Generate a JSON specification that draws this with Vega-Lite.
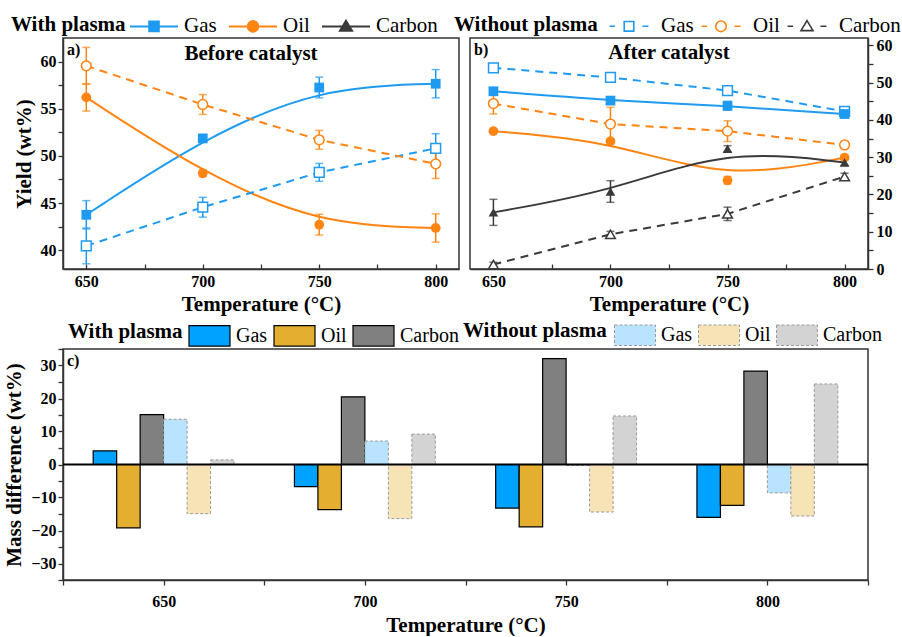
{
  "$schema": "https://vega.github.io/schema/vega-lite/v6.json",
  "padding": {"left": 3, "top": 0, "right": 0, "bottom": 0},
  "background": "white",
  "datasets": {
    "pts": [
      {"p":"a","T":650,"c":"Gas","l":"w","v":43.75,"e":1.5},
      {"p":"a","T":700,"c":"Gas","l":"w","v":51.85,"e":0.4},
      {"p":"a","T":750,"c":"Gas","l":"w","v":57.25,"e":1.1},
      {"p":"a","T":800,"c":"Gas","l":"w","v":57.65,"e":1.5},
      {"p":"a","T":650,"c":"Oil","l":"w","v":56.2,"e":1.45},
      {"p":"a","T":700,"c":"Oil","l":"w","v":48.15,"e":0.35},
      {"p":"a","T":750,"c":"Oil","l":"w","v":42.7,"e":1.1},
      {"p":"a","T":800,"c":"Oil","l":"w","v":42.35,"e":1.5},
      {"p":"a","T":650,"c":"Gas","l":"wo","v":40.45,"e":1.9},
      {"p":"a","T":700,"c":"Gas","l":"wo","v":44.55,"e":1.05},
      {"p":"a","T":750,"c":"Gas","l":"wo","v":48.25,"e":0.95},
      {"p":"a","T":800,"c":"Gas","l":"wo","v":50.8,"e":1.55},
      {"p":"a","T":650,"c":"Oil","l":"wo","v":59.55,"e":1.95},
      {"p":"a","T":700,"c":"Oil","l":"wo","v":55.45,"e":1.05},
      {"p":"a","T":750,"c":"Oil","l":"wo","v":51.7,"e":1.0},
      {"p":"a","T":800,"c":"Oil","l":"wo","v":49.15,"e":1.55},
      {"p":"b","T":650,"c":"Gas","l":"w","v":47.7,"e":0.5},
      {"p":"b","T":700,"c":"Gas","l":"w","v":45.2,"e":1.0},
      {"p":"b","T":750,"c":"Gas","l":"w","v":43.8,"e":1.2},
      {"p":"b","T":800,"c":"Gas","l":"w","v":41.6,"e":1.0},
      {"p":"b","T":650,"c":"Gas","l":"wo","v":54.0,"e":0.7},
      {"p":"b","T":700,"c":"Gas","l":"wo","v":51.4,"e":0.8},
      {"p":"b","T":750,"c":"Gas","l":"wo","v":47.9,"e":1.2},
      {"p":"b","T":800,"c":"Gas","l":"wo","v":42.3,"e":0.8},
      {"p":"b","T":650,"c":"Oil","l":"w","v":37.0,"e":0.5},
      {"p":"b","T":700,"c":"Oil","l":"w","v":34.3,"e":0.5},
      {"p":"b","T":750,"c":"Oil","l":"w","v":23.8,"e":1.0},
      {"p":"b","T":800,"c":"Oil","l":"w","v":29.9,"e":0.6},
      {"p":"b","T":650,"c":"Oil","l":"wo","v":44.4,"e":2.8},
      {"p":"b","T":700,"c":"Oil","l":"wo","v":38.9,"e":4.5},
      {"p":"b","T":750,"c":"Oil","l":"wo","v":37.0,"e":2.8},
      {"p":"b","T":800,"c":"Oil","l":"wo","v":33.3,"e":0.9},
      {"p":"b","T":650,"c":"Carbon","l":"w","v":15.2,"e":3.5},
      {"p":"b","T":700,"c":"Carbon","l":"w","v":20.8,"e":2.9},
      {"p":"b","T":750,"c":"Carbon","l":"w","v":32.3,"e":0.8},
      {"p":"b","T":800,"c":"Carbon","l":"w","v":28.6,"e":0.8},
      {"p":"b","T":650,"c":"Carbon","l":"wo","v":1.2,"e":0.6},
      {"p":"b","T":700,"c":"Carbon","l":"wo","v":9.3,"e":0.8},
      {"p":"b","T":750,"c":"Carbon","l":"wo","v":14.8,"e":1.8},
      {"p":"b","T":800,"c":"Carbon","l":"wo","v":24.8,"e":0.9}
    ],
    "bars": [
      {"T":650,"c":"Gas","l":"w","s":"Gas-w","v":4.1},
      {"T":650,"c":"Oil","l":"w","s":"Oil-w","v":-19.2},
      {"T":650,"c":"Carbon","l":"w","s":"Carbon-w","v":15.1},
      {"T":650,"c":"Gas","l":"wo","s":"Gas-wo","v":13.7},
      {"T":650,"c":"Oil","l":"wo","s":"Oil-wo","v":-14.9},
      {"T":650,"c":"Carbon","l":"wo","s":"Carbon-wo","v":1.4},
      {"T":700,"c":"Gas","l":"w","s":"Gas-w","v":-6.7},
      {"T":700,"c":"Oil","l":"w","s":"Oil-w","v":-13.7},
      {"T":700,"c":"Carbon","l":"w","s":"Carbon-w","v":20.5},
      {"T":700,"c":"Gas","l":"wo","s":"Gas-wo","v":7.1},
      {"T":700,"c":"Oil","l":"wo","s":"Oil-wo","v":-16.4},
      {"T":700,"c":"Carbon","l":"wo","s":"Carbon-wo","v":9.2},
      {"T":750,"c":"Gas","l":"w","s":"Gas-w","v":-13.2},
      {"T":750,"c":"Oil","l":"w","s":"Oil-w","v":-18.9},
      {"T":750,"c":"Carbon","l":"w","s":"Carbon-w","v":32.1},
      {"T":750,"c":"Gas","l":"wo","s":"Gas-wo","v":-0.3},
      {"T":750,"c":"Oil","l":"wo","s":"Oil-wo","v":-14.4},
      {"T":750,"c":"Carbon","l":"wo","s":"Carbon-wo","v":14.7},
      {"T":800,"c":"Gas","l":"w","s":"Gas-w","v":-16.0},
      {"T":800,"c":"Oil","l":"w","s":"Oil-w","v":-12.4},
      {"T":800,"c":"Carbon","l":"w","s":"Carbon-w","v":28.3},
      {"T":800,"c":"Gas","l":"wo","s":"Gas-wo","v":-8.6},
      {"T":800,"c":"Oil","l":"wo","s":"Oil-wo","v":-15.6},
      {"T":800,"c":"Carbon","l":"wo","s":"Carbon-wo","v":24.4}
    ]
  },
  "bounds": "flush",
  "spacing": 311,
  "vconcat": [
    {
      "bounds": "flush",
      "spacing": 11,
      "hconcat": [
        {
          "width": 396, "height": 231,
          "title": {"text": "Before catalyst", "offset": -26, "dx": -10, "frame": "group"},
          "data": {"name": "pts"},
          "encoding": {
            "x": {"field": "T", "type": "quantitative", "scale": {"domain": [640, 810], "nice": false, "zero": false},
                  "axis": {"title": "Temperature (°C)", "values": [650, 675, 700, 725, 750, 775, 800], "labelExpr": "datum.value % 50 === 0 ? datum.label : ''", "tickSize": -5, "labelPadding": 9, "titlePadding": 4}},
            "y": {"field": "v", "type": "quantitative", "scale": {"domain": [38, 62.5], "nice": false, "zero": false},
                  "axis": {"title": "Yield (wt%)", "values": [40, 42.5, 45, 47.5, 50, 52.5, 55, 57.5, 60], "labelExpr": "datum.value % 5 === 0 ? datum.label : ''", "tickSize": 5, "labelPadding": 2, "titlePadding": 6}}
          },
          "layer": [
            {"transform": [{"filter": "datum.p === 'a' && datum.l === 'w'"}], "mark": {"type": "line", "interpolate": "basis", "strokeWidth": 2},
             "encoding": {"color": {"field": "c", "type": "nominal", "scale": {"domain": ["Gas", "Oil", "Carbon"], "range": ["#1E9BF0", "#FF8412", "#3A3A3A"]}, "legend": null}}},
            {"transform": [{"filter": "datum.p === 'a' && datum.l === 'wo'"}], "mark": {"type": "line", "strokeWidth": 2, "strokeDash": [8, 6]},
             "encoding": {"color": {"field": "c", "type": "nominal", "legend": null}}},
            {"transform": [{"filter": "datum.p === 'a'"}], "mark": {"type": "errorbar", "ticks": {"size": 8}, "thickness": 1.5},
             "encoding": {"yError": {"field": "e"}, "color": {"field": "c", "type": "nominal", "legend": null}}},
            {"transform": [{"filter": "datum.p === 'a' && datum.l === 'wo'"}], "mark": {"type": "point", "filled": true, "fill": "white", "size": 95, "strokeWidth": 1.5, "opacity": 1},
             "encoding": {"stroke": {"field": "c", "type": "nominal", "scale": {"domain": ["Gas", "Oil", "Carbon"], "range": ["#1E9BF0", "#FF8412", "#3A3A3A"]}, "legend": null},
                          "shape": {"condition": [{"test": "datum.c === 'Gas'", "value": "square"}, {"test": "datum.c === 'Oil'", "value": "circle"}], "value": "triangle-up"}}},
            {"transform": [{"filter": "datum.p === 'a' && datum.l === 'w'"}], "mark": {"type": "point", "filled": true, "size": 95, "opacity": 1},
             "encoding": {"color": {"field": "c", "type": "nominal", "legend": null},
                          "shape": {"condition": [{"test": "datum.c === 'Gas'", "value": "square"}, {"test": "datum.c === 'Oil'", "value": "circle"}], "value": "triangle-up"}}},
            {"data": {"values": [{"t": "a)", "T": 640, "v": 62.5}]}, "mark": {"type": "text", "align": "left", "baseline": "top", "dx": 4, "dy": 4, "fontSize": 16, "fontWeight": "bold", "font": "Liberation Serif", "color": "black"},
             "encoding": {"text": {"field": "t", "type": "nominal"}}}
          ]
        },
        {
          "width": 398, "height": 231,
          "title": {"text": "After catalyst", "offset": -26, "frame": "group"},
          "data": {"name": "pts"},
          "encoding": {
            "x": {"field": "T", "type": "quantitative", "scale": {"domain": [640, 810], "nice": false, "zero": false},
                  "axis": {"title": "Temperature (°C)", "values": [650, 675, 700, 725, 750, 775, 800], "labelExpr": "datum.value % 50 === 0 ? datum.label : ''", "tickSize": -5, "labelPadding": 9, "titlePadding": 4}},
            "y": {"field": "v", "type": "quantitative", "scale": {"domain": [0, 62], "nice": false, "zero": false},
                  "axis": {"title": null, "orient": "right", "values": [0, 5, 10, 15, 20, 25, 30, 35, 40, 45, 50, 55, 60], "labelExpr": "datum.value % 10 === 0 ? datum.label : ''", "tickSize": 5, "labelPadding": 3}}
          },
          "layer": [
            {"transform": [{"filter": "datum.p === 'b' && datum.l === 'w'"}], "mark": {"type": "line", "interpolate": "basis", "strokeWidth": 2},
             "encoding": {"color": {"field": "c", "type": "nominal", "scale": {"domain": ["Gas", "Oil", "Carbon"], "range": ["#1E9BF0", "#FF8412", "#3A3A3A"]}, "legend": null}}},
            {"transform": [{"filter": "datum.p === 'b' && datum.l === 'wo'"}], "mark": {"type": "line", "strokeWidth": 2, "strokeDash": [8, 6]},
             "encoding": {"color": {"field": "c", "type": "nominal", "legend": null}}},
            {"transform": [{"filter": "datum.p === 'b'"}], "mark": {"type": "errorbar", "ticks": {"size": 8}, "thickness": 1.5},
             "encoding": {"yError": {"field": "e"}, "color": {"field": "c", "type": "nominal", "legend": null}}},
            {"transform": [{"filter": "datum.p === 'b' && datum.l === 'wo'"}], "mark": {"type": "point", "filled": true, "fill": "white", "size": 95, "strokeWidth": 1.5, "opacity": 1},
             "encoding": {"stroke": {"field": "c", "type": "nominal", "scale": {"domain": ["Gas", "Oil", "Carbon"], "range": ["#1E9BF0", "#FF8412", "#3A3A3A"]}, "legend": null},
                          "shape": {"condition": [{"test": "datum.c === 'Gas'", "value": "square"}, {"test": "datum.c === 'Oil'", "value": "circle"}], "value": "triangle-up"}}},
            {"transform": [{"filter": "datum.p === 'b' && datum.l === 'w'"}], "mark": {"type": "point", "filled": true, "size": 95, "opacity": 1},
             "encoding": {"color": {"field": "c", "type": "nominal", "legend": null},
                          "shape": {"condition": [{"test": "datum.c === 'Gas'", "value": "square"}, {"test": "datum.c === 'Oil'", "value": "circle"}], "value": "triangle-up"}}},
            {"data": {"values": [{"t": "b)", "T": 640, "v": 62}]}, "mark": {"type": "text", "align": "left", "baseline": "top", "dx": 4, "dy": 4, "fontSize": 16, "fontWeight": "bold", "font": "Liberation Serif", "color": "black"},
             "encoding": {"text": {"field": "t", "type": "nominal"}}}
          ]
        }
      ],
      "resolve": {"scale": {"x": "independent", "y": "independent", "color": "independent", "stroke": "independent"},
                  "legend": {"color": "independent", "stroke": "independent"}}
    },
    {
      "width": 805, "height": 231,
      "encoding": {
        "y": {"field": "v", "type": "quantitative", "scale": {"domain": [-35, 35], "nice": false, "zero": false},
              "axis": {"title": "Mass difference (wt%)", "values": [-35, -30, -25, -20, -15, -10, -5, 0, 5, 10, 15, 20, 25, 30, 35], "labelExpr": "datum.value % 10 === 0 ? datum.label : ''", "tickSize": 5, "labelPadding": 2, "titlePadding": 6}}
      },
      "layer": [
        {"data": {"name": "bars"}, "transform": [{"filter": "datum.l === 'w'"}],
         "mark": {"type": "bar", "stroke": "black", "strokeWidth": 1.2, "opacity": 1},
         "encoding": {
           "x": {"field": "T", "type": "nominal", "scale": {"type": "band", "domain": [650, 700, 750, 800], "paddingInner": 0.3, "paddingOuter": 0.15}, "axis": null},
           "xOffset": {"field": "s", "type": "nominal", "scale": {"domain": ["Gas-w", "Oil-w", "Carbon-w", "Gas-wo", "Oil-wo", "Carbon-wo"], "paddingInner": 0, "paddingOuter": 0}},
           "color": {"field": "c", "type": "nominal", "scale": {"domain": ["Gas", "Oil", "Carbon"], "range": ["#00A2FF", "#E4AE30", "#808080"]},
                     "legend": {"title": "With plasma", "orient": "none", "legendX": 5, "legendY": -35, "direction": "horizontal", "titleOrient": "left", "titlePadding": 5, "titleAnchor": "middle", "titleBaseline": "middle",
                                "symbolType": "M-1,-0.5H1V0.5H-1ZM0,-0.56M0,0.56", "symbolSize": 1681, "symbolStrokeColor": "black", "symbolStrokeWidth": 1.2, "symbolOpacity": 1, "labelOffset": 5, "columnPadding": 3, "labelFontSize": 20}}
         }},
        {"data": {"name": "bars"}, "transform": [{"filter": "datum.l === 'wo'"}],
         "mark": {"type": "bar", "stroke": "#9a9a9a", "strokeWidth": 1, "strokeDash": [3, 2], "opacity": 1},
         "encoding": {
           "x": {"field": "T", "type": "nominal", "scale": {"type": "band", "domain": [650, 700, 750, 800], "paddingInner": 0.3, "paddingOuter": 0.15}, "axis": null},
           "xOffset": {"field": "s", "type": "nominal"},
           "color": {"field": "c", "type": "nominal", "scale": {"domain": ["Gas", "Oil", "Carbon"], "range": ["#B9E3FF", "#F6E3B6", "#D3D3D3"]},
                     "legend": {"title": "Without plasma", "orient": "none", "legendX": 400, "legendY": -35, "direction": "horizontal", "titleOrient": "left", "titlePadding": 7, "titleAnchor": "middle", "titleBaseline": "middle",
                                "symbolType": "M-1,-0.5H1V0.5H-1ZM0,-0.56M0,0.56", "symbolSize": 1681, "symbolStrokeColor": "#9a9a9a", "symbolStrokeWidth": 1, "symbolDash": [3, 2], "symbolOpacity": 1, "labelOffset": 5, "columnPadding": 3, "labelFontSize": 20}}
         }},
        {"data": {"name": "bars"}, "transform": [{"filter": "false"}],
         "mark": {"type": "point", "filled": true, "opacity": 1, "strokeWidth": 2},
         "encoding": {
           "fill": {"field": "c", "type": "nominal", "scale": {"domain": ["Gas", "Oil", "Carbon"], "range": ["#1E9BF0", "#FF8412", "#3A3A3A"]},
                    "legend": {"title": "With plasma", "orient": "none", "legendX": -52, "legendY": -348, "direction": "horizontal", "titleOrient": "left", "titlePadding": 3, "titleAnchor": "middle", "titleBaseline": "middle", "symbolSize": 2304, "symbolStrokeWidth": 2, "symbolOpacity": 1, "labelOffset": 5, "columnPadding": 8}},
           "stroke": {"field": "c", "type": "nominal", "scale": {"domain": ["Gas", "Oil", "Carbon"], "range": ["#1E9BF0", "#FF8412", "#3A3A3A"]},
                    "legend": {"title": "With plasma", "orient": "none", "legendX": -52, "legendY": -348, "direction": "horizontal", "titleOrient": "left", "titlePadding": 3, "titleAnchor": "middle", "titleBaseline": "middle", "symbolSize": 2304, "symbolStrokeWidth": 2, "symbolOpacity": 1, "labelOffset": 5, "columnPadding": 8}},
           "shape": {"field": "c", "type": "nominal",
                     "scale": {"domain": ["Gas", "Oil", "Carbon"], "range": ["M0,-0.8M0,0.8M-1,0H1M-0.2,-0.2H0.2V0.2H-0.2Z", "M0,-0.8M0,0.8M-1,0H1M-0.22,0C-0.22,-0.12,-0.12,-0.22,0,-0.22C0.12,-0.22,0.22,-0.12,0.22,0C0.22,0.12,0.12,0.22,0,0.22C-0.12,0.22,-0.22,0.12,-0.22,0Z", "M0,-0.8M0,0.8M-1,0H1M0,-0.24L0.25,0.18H-0.25Z"]},
                     "legend": {"title": "With plasma", "orient": "none", "legendX": -52, "legendY": -348, "direction": "horizontal", "titleOrient": "left", "titlePadding": 3, "titleAnchor": "middle", "titleBaseline": "middle", "symbolSize": 2304, "symbolStrokeWidth": 2, "symbolOpacity": 1, "labelOffset": 5, "columnPadding": 8}}
         }},
        {"data": {"name": "bars"}, "transform": [{"filter": "false"}],
         "mark": {"type": "point", "filled": false, "opacity": 1, "strokeWidth": 1.6},
         "encoding": {
           "stroke": {"field": "c", "type": "nominal", "scale": {"domain": ["Gas", "Oil", "Carbon"], "range": ["#1E9BF0", "#FF8412", "#3A3A3A"]},
                      "legend": {"title": "Without plasma", "orient": "none", "legendX": 391, "legendY": -348, "direction": "horizontal", "titleOrient": "left", "titlePadding": 6, "titleAnchor": "middle", "titleBaseline": "middle", "symbolSize": 2304, "symbolStrokeWidth": 1.6, "symbolOpacity": 1, "labelOffset": 7, "columnPadding": 2}},
           "shape": {"field": "c", "type": "nominal",
                     "scale": {"domain": ["Gas", "Oil", "Carbon"], "range": ["M0,-0.8M0,0.8M-0.81,0H-0.58M0.56,0H0.81M-0.2,-0.2H0.2V0.2H-0.2Z", "M0,-0.8M0,0.8M-0.81,0H-0.58M0.56,0H0.81M-0.22,0C-0.22,-0.12,-0.12,-0.22,0,-0.22C0.12,-0.22,0.22,-0.12,0.22,0C0.22,0.12,0.12,0.22,0,0.22C-0.12,0.22,-0.22,0.12,-0.22,0Z", "M0,-0.8M0,0.8M-0.81,0H-0.58M0.56,0H0.81M0,-0.24L0.25,0.18H-0.25Z"]},
                     "legend": {"title": "Without plasma", "orient": "none", "legendX": 391, "legendY": -348, "direction": "horizontal", "titleOrient": "left", "titlePadding": 6, "titleAnchor": "middle", "titleBaseline": "middle", "symbolSize": 2304, "symbolStrokeWidth": 1.6, "symbolOpacity": 1, "labelOffset": 7, "columnPadding": 2}}
         }},
        {"data": {"values": [{"v": 0}]},
         "mark": {"type": "rule", "strokeWidth": 2, "color": "black"},
         "encoding": {
           "x": {"datum": 625, "type": "quantitative", "scale": {"domain": [625, 825], "nice": false, "zero": false},
                 "axis": {"orient": "bottom", "title": "Temperature (°C)", "values": [625, 650, 675, 700, 725, 750, 775, 800, 825], "labelExpr": "datum.value % 50 === 0 ? datum.label : ''", "tickSize": 5, "labelPadding": 8, "titlePadding": 5}},
           "x2": {"datum": 825}
         }},
        {"data": {"values": [{"t": "c)", "v": 35}]}, "mark": {"type": "text", "align": "left", "baseline": "top", "dx": 4, "dy": 4, "fontSize": 16, "fontWeight": "bold", "font": "Liberation Serif", "color": "black"},
         "encoding": {"x": {"datum": 625, "type": "quantitative", "scale": {"domain": [625, 825], "nice": false, "zero": false}, "axis": null}, "text": {"field": "t"}}}
      ],
      "resolve": {"scale": {"x": "independent", "color": "independent", "fill": "independent", "stroke": "independent", "shape": "independent"},
                  "legend": {"color": "independent", "fill": "independent", "stroke": "independent", "shape": "independent"}}
    }
  ],
  "resolve": {"scale": {"x": "independent", "y": "independent", "color": "independent", "fill": "independent", "stroke": "independent", "shape": "independent"},
              "legend": {"color": "independent", "fill": "independent", "stroke": "independent", "shape": "independent"}},
  "config": {
    "font": "Liberation Serif",
    "view": {"stroke": "#333333", "strokeWidth": 1.5},
    "title": {"font": "Liberation Serif", "fontSize": 21, "fontWeight": "bold", "color": "black", "anchor": "middle"},
    "axis": {"labelFont": "Liberation Serif", "labelFontSize": 16, "labelFontWeight": "bold", "labelColor": "black",
             "titleFont": "Liberation Serif", "titleFontSize": 21, "titleFontWeight": "bold", "titleColor": "black",
             "domainColor": "#333333", "domainWidth": 1.5, "tickColor": "#333333", "tickWidth": 1.3, "grid": false},
    "legend": {"titleFont": "Liberation Serif", "titleFontSize": 21, "titleFontWeight": "bold", "titleColor": "black",
               "labelFont": "Liberation Serif", "labelFontSize": 21, "labelFontWeight": "normal", "labelColor": "black", "titleLimit": 300, "labelLimit": 200}
  }
}
